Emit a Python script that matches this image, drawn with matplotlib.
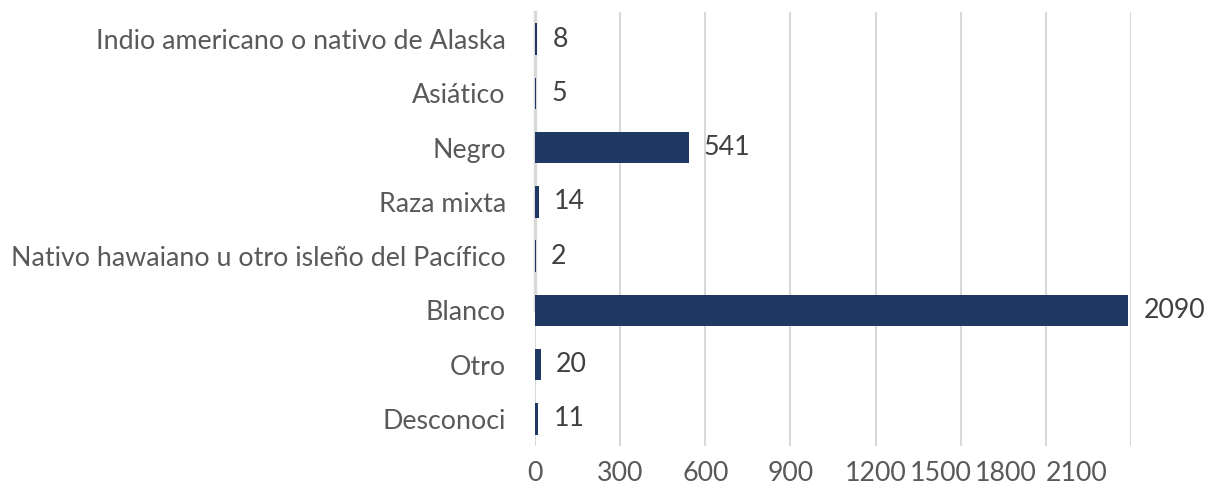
import matplotlib
matplotlib.use("Agg")
import matplotlib.pyplot as plt
from matplotlib.transforms import ScaledTranslation

# ── Data ──────────────────────────────────────────────────────────
categories = [
    "Indio americano o nativo de Alaska",
    "Asiático",
    "Negro",
    "Raza mixta",
    "Nativo hawaiano u otro isleño del Pacífico",
    "Blanco",
    "Otro",
    "Desconoci",
]
values = [8, 5, 541, 14, 2, 2090, 20, 11]
x_ticks = [0, 300, 600, 900, 1200, 1500, 1800, 2100]

# ── Style ─────────────────────────────────────────────────────────
NAVY  = "#1F3864"
GRID  = "#D9D9D9"
TEXT  = "#595959"
FONT  = "Lato"
FS    = 19.3

W, H, DPI = 1209, 497, 100
fig = plt.figure(figsize=(W / DPI, H / DPI), dpi=DPI, facecolor="white")
ax = fig.add_axes([535 / W, 1 - 446 / H, (1131 - 535) / W, (446 - 12) / H])

y = list(range(len(categories)))
ax.barh(y, values, height=0.58, color=NAVY, zorder=3)

for yi, v in zip(y, values):
    ax.annotate(f"{v}", (v, yi), xytext=(11, 0), textcoords="offset points",
                va="center", ha="left", fontsize=FS, color="#404040", family=FONT)

ax.set_xlim(0, 2100)
ax.set_ylim(len(categories) - 0.5, -0.5)
ax.set_yticks(y)
ax.set_yticklabels(categories, fontsize=FS, color=TEXT, family=FONT)
ax.set_xticks(x_ticks)
ax.set_xticklabels([str(t) for t in x_ticks], fontsize=FS, color=TEXT, family=FONT)
ax.tick_params(axis="y", length=0, pad=21)
ax.tick_params(axis="x", length=0, pad=11)

# Excel squeezed the last few tick labels leftwards
shifts = [0, 0, 0, 0, 0, -20, -40, -54]
for lbl, dx in zip(ax.get_xticklabels(), shifts):
    lbl.set_transform(lbl.get_transform() + ScaledTranslation(dx / DPI, 0, fig.dpi_scale_trans))

ax.grid(axis="x", color=GRID, linewidth=1.5, zorder=0)
for s in ["top", "right", "bottom"]:
    ax.spines[s].set_visible(False)
ax.spines["left"].set_color(GRID)
ax.spines["left"].set_linewidth(2.5)
ax.spines["left"].set_bounds(5, -0.5)
ax.spines["left"].set_zorder(2)

fig.savefig("out.png", dpi=DPI, facecolor="white")
plt.close(fig)
